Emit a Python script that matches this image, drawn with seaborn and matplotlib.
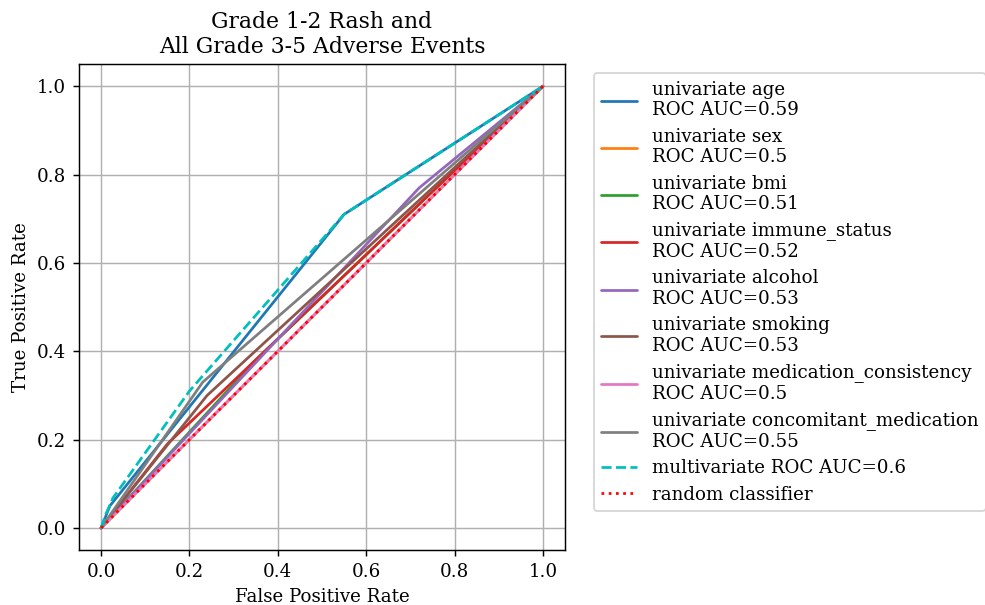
import numpy as np
import pandas as pd
import matplotlib
matplotlib.use("Agg")
import matplotlib.pyplot as plt
import seaborn as sns

# ROC curve points
features = ['age', 'sex', 'bmi', 'immune_status', 'alcohol', 'smoking',
            'medication_consistency', 'concomitant_medication']
auc_values = [0.59, 0.5, 0.51, 0.52, 0.53, 0.53, 0.5, 0.55]
fpr_list = [
    [0, 0.02, 0.55, 1],
    [0, 1],
    [0, 0.35, 1],
    [0, 0.15, 1],
    [0, 0.72, 1],
    [0, 0.24, 1],
    [0, 1],
    [0, 0.23, 1],
]
tpr_list = [
    [0, 0.05, 0.71, 1],
    [0, 1],
    [0, 0.38, 1],
    [0, 0.19, 1],
    [0, 0.77, 1],
    [0, 0.30, 1],
    [0, 1],
    [0, 0.33, 1],
]
multi_fpr = [0, 0.011, 0.027, 0.2, 0.55, 1]
multi_tpr = [0, 0.032, 0.068, 0.31, 0.71, 1]
multi_auc = 0.6
random_fpr = [0, 1]
random_tpr = [0, 1]

sns.set_style("ticks")
plt.rcParams['font.family'] = ['DejaVu Serif']
plt.rcParams['font.size'] = 10
plt.rcParams['text.color'] = 'black'
plt.rcParams['axes.labelcolor'] = 'black'
plt.rcParams['xtick.color'] = 'black'
plt.rcParams['ytick.color'] = 'black'
plt.rcParams['axes.edgecolor'] = 'black'
plt.rcParams['axes.linewidth'] = 0.8

DPI = 131
fig = plt.figure(figsize=(985 / DPI, 605 / DPI), dpi=DPI)
ax = fig.add_axes([0.0802, 0.0909, 0.4934, 0.803])

colors = sns.color_palette('tab10')
for i, feat in enumerate(features):
    df = pd.DataFrame({'fpr': fpr_list[i], 'tpr': tpr_list[i]})
    sns.lineplot(data=df, x='fpr', y='tpr', ax=ax, sort=False,
                 estimator=None, color=colors[i], linewidth=1.5,
                 label='univariate ' + feat + '\nROC AUC=' + str(auc_values[i]))

df = pd.DataFrame({'fpr': multi_fpr, 'tpr': multi_tpr})
sns.lineplot(data=df, x='fpr', y='tpr', ax=ax, sort=False, estimator=None,
             color='c', linestyle='--', linewidth=1.5,
             label='multivariate ROC AUC=' + str(multi_auc))
df = pd.DataFrame({'fpr': random_fpr, 'tpr': random_tpr})
sns.lineplot(data=df, x='fpr', y='tpr', ax=ax, sort=False, estimator=None,
             color='r', linestyle=':', linewidth=1.5,
             label='random classifier')

ax.set_xlim(-0.05, 1.05)
ax.set_ylim(-0.05, 1.05)
ax.grid(True, color='#b0b0b0', linewidth=0.8)
ax.tick_params(width=0.8, length=3.5)
ax.set_xlabel('False Positive Rate')
ax.set_ylabel('True Positive Rate')
ax.set_title('Grade 1-2 Rash and\nAll Grade 3-5 Adverse Events', fontsize=12)
ax.legend(loc='upper left', bbox_to_anchor=(1.04, 1.0), labelspacing=0.45)

fig.savefig('out.png', dpi=DPI)
